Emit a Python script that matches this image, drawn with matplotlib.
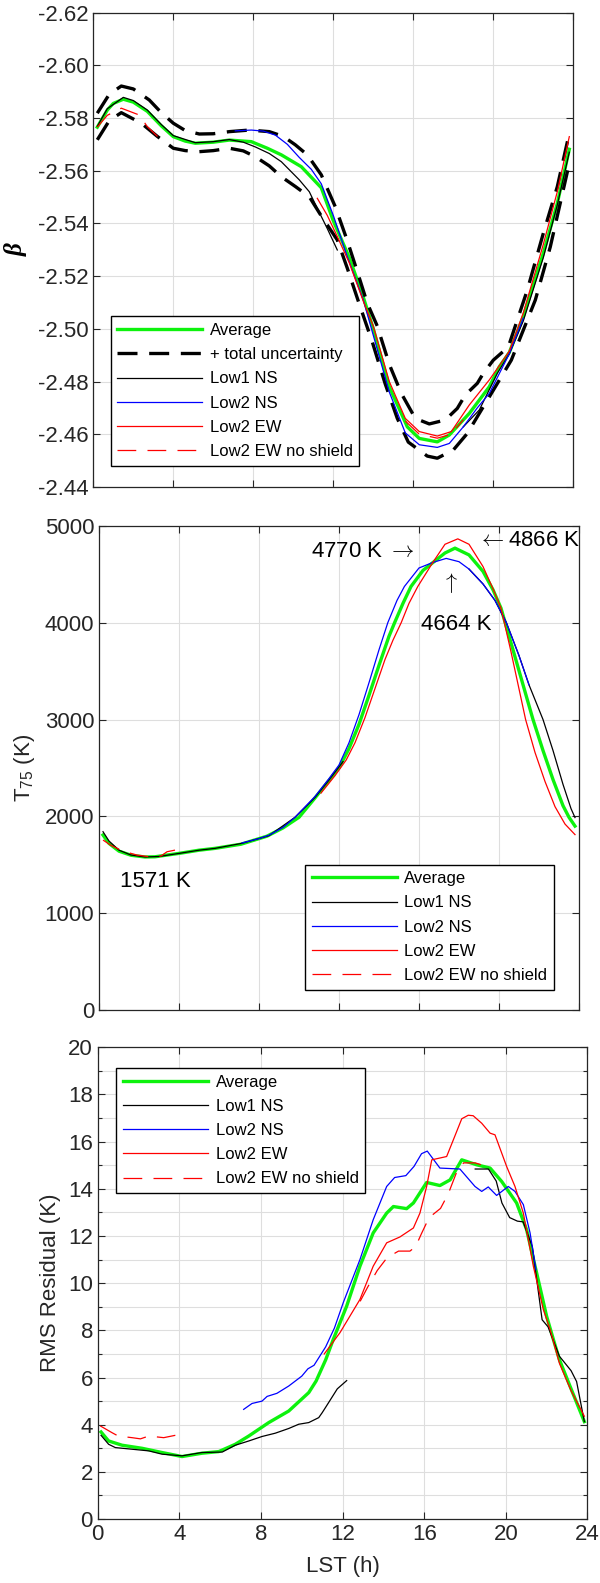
import numpy as np
import matplotlib.pyplot as plt
from matplotlib.ticker import MultipleLocator, FormatStrFormatter

plt.rcParams['font.family'] = ['Liberation Sans', 'DejaVu Sans']
plt.rcParams['mathtext.fontset'] = 'custom'
plt.rcParams['mathtext.rm'] = 'Liberation Sans'
plt.rcParams['mathtext.it'] = 'Liberation Sans:italic'

nan = np.nan

# ---- beta (top panel) ----
t_avg_b = [0.2, 0.7, 1.0, 1.5, 2.0, 2.7, 3.4, 4.0, 4.6, 5.1, 6.0, 6.8, 7.9, 8.7, 9.4, 10.4, 11.4, 12.0,
           12.8, 13.5, 14.0, 14.8, 15.7, 16.3, 17.2, 17.8, 18.8, 19.8, 20.3, 20.8, 21.5, 22.5, 23.2, 23.8]
avg_b = [-2.5765, -2.5830, -2.5855, -2.5871, -2.5860, -2.5825, -2.5770, -2.5729, -2.5712, -2.5704,
         -2.5708, -2.5716, -2.5710, -2.5685, -2.5660, -2.5615, -2.5535, -2.5410, -2.5270, -2.5120,
         -2.5000, -2.4780, -2.4628, -2.4584, -2.4571, -2.4597, -2.4679, -2.4780, -2.4856, -2.4910,
         -2.5046, -2.5286, -2.5476, -2.5681]

t_unc_hi = [0.2, 0.8, 1.4, 2.0, 2.8, 3.4, 4.0, 4.6, 5.3, 6.0, 6.8, 7.8, 8.8, 9.5, 10.1, 10.7, 11.4, 12.1,
            12.7, 13.2, 13.7, 14.2, 14.8, 15.4, 16.1, 16.8, 17.6, 18.2, 18.6, 19.2, 19.5, 20.0, 20.75,
            21.7, 22.5, 23.2, 23.8]
unc_hi = [-2.5818, -2.5890, -2.5921, -2.5910, -2.5868, -2.5820, -2.5780, -2.5752, -2.5739, -2.5740,
          -2.5748, -2.5754, -2.5748, -2.5730, -2.5698, -2.5660, -2.5584, -2.5463, -2.5334, -2.5217,
          -2.5097, -2.5010, -2.4865, -2.4755, -2.4660, -2.4639, -2.4654, -2.4698, -2.4749, -2.4793,
          -2.4831, -2.4881, -2.4931, -2.5147, -2.5362, -2.5539, -2.5742]

t_unc_lo = [0.2, 0.8, 1.4, 2.4, 3.2, 4.0, 4.6, 5.3, 6.0, 6.8, 7.5, 8.1, 8.8, 9.4, 10.1, 10.8, 11.4, 12.2,
            12.7, 13.25, 13.95, 14.6, 15.2, 15.75, 16.7, 17.2, 18.0, 18.7, 19.3, 20.0, 20.9, 21.5, 22.1,
            22.85, 23.8]
unc_lo = [-2.5717, -2.5790, -2.5820, -2.5780, -2.5730, -2.5685, -2.5676, -2.5672, -2.5676, -2.5685,
          -2.5675, -2.5653, -2.5618, -2.5577, -2.5540, -2.5501, -2.5428, -2.5337, -2.5230, -2.5105,
          -2.4950, -2.4790, -2.4660, -2.4570, -2.4517, -2.4509, -2.4540, -2.4603, -2.4679, -2.4767,
          -2.4881, -2.4995, -2.5109, -2.5311, -2.5628]

t_low1_b = [0.2, 0.7, 1.5, 2.0, 2.7, 3.4, 4.0, 5.1, 6.0, 6.8, 7.5, 8.1, 8.8, 9.4, 10.3, 10.8, 11.2, 11.7,
            12.2, nan, 18.5, 19.3, 20.2, 20.8, 21.5, 22.5, 23.2, 23.8]
low1_b = [-2.5768, -2.5835, -2.5878, -2.5866, -2.5830, -2.5775, -2.5733, -2.5706, -2.5710, -2.5718,
          -2.5708, -2.5690, -2.5665, -2.5634, -2.5565, -2.5520, -2.5457, -2.5380, -2.5299, nan,
          -2.4628, -2.4692, -2.4831, -2.4905, -2.5030, -2.5270, -2.5470, -2.5670]

t_low2ns_b = [7.1, 7.9, 8.5, 9.1, 9.7, 10.3, 10.9, 11.4, 12.0, 12.7, 13.5, 14.0, 14.8, 15.6, 16.3, 17.2,
              17.8, 18.5, 19.2, 19.8, 20.3, 20.8, 21.5]
low2ns_b = [-2.5751, -2.5754, -2.5750, -2.5735, -2.5700, -2.5650, -2.5605, -2.5550, -2.5430, -2.5274,
            -2.5110, -2.4975, -2.4760, -2.4605, -2.4560, -2.4550, -2.4565, -2.4628, -2.4700, -2.4755,
            -2.4830, -2.4905, -2.5040]

t_low2ew_b = [11.2, 11.7, 12.2, 12.8, 13.5, 14.0, 14.8, 15.6, 16.3, 17.2, 17.9, 18.8, 19.8, 20.3, 20.8,
              21.5, 22.5, 23.2, 23.8]
low2ew_b = [-2.5495, -2.5430, -2.5350, -2.5250, -2.5105, -2.5010, -2.4800, -2.4660, -2.4610, -2.4593,
            -2.4610, -2.4711, -2.4806, -2.4860, -2.4915, -2.5060, -2.5320, -2.5520, -2.5729]

t_noshield_b = [0.2, 0.7, 1.4, 2.3, 2.7, 3.4, nan, 15.6, 16.3, 17.2, 17.9, 18.5]
noshield_b = [-2.5765, -2.5810, -2.5837, -2.5811, -2.5767, -2.5716, nan,
              -2.4650, -2.4600, -2.4585, -2.4600, -2.4655]

# ---- T75 (middle panel) ----
t_avg_t = [0.2, 0.5, 1.0, 1.6, 2.3, 2.8, 3.4, 4.0, 5.0, 5.8, 7.1, 8.4, 9.2, 10.0, 10.8, 11.5, 12.0, 12.5,
           13.0, 13.5, 14.0, 14.5, 14.78, 15.2, 15.6, 16.2, 16.7, 17.3, 17.8, 18.5, 19.2, 19.7, 20.1,
           20.7, 21.2, 21.7, 22.2, 22.7, 23.2, 23.5, 23.8]
avg_t = [1807, 1720, 1640, 1598, 1580, 1582, 1600, 1617, 1650, 1669, 1712, 1795, 1880, 1990, 2190, 2370,
         2500, 2700, 2950, 3250, 3560, 3860, 4000, 4200, 4374, 4540, 4622, 4720, 4770, 4700, 4530,
         4340, 4150, 3720, 3360, 3000, 2680, 2380, 2110, 1990, 1899]

t_low1_t = [0.2, 0.5, 1.0, 1.6, 2.3, 3.0, 4.0, 5.0, 5.8, 7.15, 8.5, 9.8, 10.8, 11.5, 12.2, nan,
            18.5, 19.2, 19.8, 20.37, 21.0, 21.5, 22.2, 22.7, 23.2, 23.6, 23.8]
low1_t = [1841, 1745, 1650, 1600, 1580, 1585, 1617, 1650, 1669, 1721, 1800, 1990, 2195, 2375, 2565, nan,
          4554, 4400, 4230, 4000, 3660, 3358, 3000, 2680, 2330, 2080, 1987]

t_low2ns_t = [7.15, 8.0, 8.5, 9.2, 9.8, 10.8, 11.5, 12.0, 12.5, 13.0, 13.5, 14.0, 14.44, 14.9, 15.27,
              16.0, 16.69, 17.36, 18.0, 18.5, 19.2, 19.8, 20.37, 21.0, 21.5]
low2ns_t = [1725, 1770, 1805, 1885, 1990, 2205, 2390, 2530, 2760, 3050, 3380, 3720, 4000, 4230, 4374,
            4565, 4622, 4664, 4630, 4554, 4400, 4230, 4000, 3660, 3358]

t_low2ew_t = [11.1, 11.8, 12.36, 12.8, 13.3, 13.8, 14.3, 14.7, 15.11, 15.5, 15.94, 16.69, 17.3, 17.94,
              18.5, 19.2, 19.7, 20.1, 20.6, 21.33, 21.8, 22.3, 22.8, 23.3, 23.8]
low2ew_t = [2240, 2420, 2582, 2760, 3020, 3320, 3620, 3820, 4000, 4200, 4374, 4622, 4810, 4866, 4810,
            4580, 4350, 4150, 3700, 3000, 2660, 2360, 2100, 1920, 1811]

t_noshield_t = [0.2, 0.6, 1.2, 1.9, 2.6, 3.1, 3.4, 3.8]
noshield_t = [1755, 1700, 1640, 1600, 1580, 1590, 1634, 1651]

# ---- RMS residual (bottom panel) ----
t_avg_r = [0.16, 0.53, 1.19, 2.17, 3.15, 4.13, 5.1, 5.93, 6.74, 7.4, 8.38, 9.36, 10.34, 10.7, 11.17,
           11.54, 12.2, 12.85, 13.5, 14.16, 14.49, 15.14, 15.47, 16.12, 16.77, 17.27, 17.84, 18.57,
           19.23, 19.8, 20.53, 21.02, 21.51, 22.0, 22.33, 22.63, 23.2, 23.85]
avg_r = [3.69, 3.31, 3.13, 3.0, 2.82, 2.65, 2.79, 2.86, 3.17, 3.52, 4.09, 4.58, 5.36, 5.85, 6.75, 7.61,
         9.03, 10.72, 12.13, 12.97, 13.25, 13.16, 13.4, 14.27, 14.14, 14.38, 15.23, 15.02, 14.88, 14.31,
         13.4, 12.27, 10.44, 8.6, 7.62, 6.75, 5.52, 4.13]

t_low1_r = [0.16, 0.53, 0.86, 1.68, 2.5, 3.15, 4.13, 5.1, 6.1, 6.74, 7.4, 8.05, 8.7, 9.36, 9.85, 10.34,
            10.83, 11.0, 11.17, 11.74, 12.2, nan, 18.5, 19.15, 19.53, 19.81, 20.19, 20.57, 20.85, 21.3,
            21.78, 22.07, 22.63, 23.2, 23.47, 23.85]
low1_r = [3.55, 3.17, 3.03, 2.96, 2.89, 2.75, 2.68, 2.82, 2.84, 3.13, 3.31, 3.5, 3.64, 3.84, 4.02, 4.09,
          4.3, 4.51, 4.74, 5.52, 5.87, nan, 14.84, 14.84, 14.33, 13.4, 12.78, 12.63, 12.6, 11.55, 8.45,
          8.15, 6.9, 6.29, 5.83, 4.13]

t_low2ns_r = [7.15, 7.56, 8.05, 8.3, 8.78, 9.36, 10.0, 10.3, 10.6, 11.17, 11.6, 12.03, 12.85, 13.5, 14.16,
              14.55, 15.1, 15.5, 15.87, 16.15, 16.77, 17.75, 18.49, 18.82, 19.14, 19.55, 20.12, 20.45,
              20.86, 21.19, 21.48]
low2ns_r = [4.65, 4.9, 5.0, 5.2, 5.33, 5.64, 6.06, 6.37, 6.52, 7.3, 8.1, 9.17, 11.0, 12.69, 14.1, 14.48,
            14.56, 14.95, 15.49, 15.6, 14.88, 14.84, 14.1, 13.89, 14.08, 13.72, 14.1, 13.89, 13.33, 12.13,
            10.57]

t_low2ew_r = [11.1, 11.87, 12.85, 13.5, 14.16, 14.81, 15.47, 15.79, 16.12, 16.37, 17.1, 17.43, 17.84,
              18.16, 18.4, 18.82, 19.23, 19.47, 20.04, 20.45, 20.86, 21.35, 21.84, 22.17, 22.63, 23.2,
              23.85]
low2ew_r = [7.0, 7.9, 9.31, 10.72, 11.71, 11.96, 12.34, 12.97, 14.1, 15.23, 15.37, 16.08, 16.97, 17.12,
            17.1, 16.78, 16.36, 16.29, 14.95, 14.1, 12.97, 10.72, 8.88, 8.04, 6.6, 5.44, 4.36]

t_noshield_r = [0.12, 0.7, 1.0, 1.68, 2.09, 2.5, 3.23, 3.8, nan, 12.86, 13.24, 13.7, 14.18, 14.74, 15.3,
                15.58, 15.86, 16.24, 16.8, 17.18, 17.56, 17.93, 18.5, 19.06]
noshield_r = [3.95, 3.66, 3.52, 3.45, 3.4, 3.52, 3.45, 3.55, nan, 9.23, 9.85, 10.54, 11.08, 11.36, 11.36,
              11.55, 12.09, 12.78, 13.17, 13.79, 14.64, 15.1, 15.1, 14.95]

GREEN = (0.05, 0.95, 0.05)
dark = '#262626'


def style(ax):
    ax.set_xlim(0, 24)
    ax.xaxis.set_major_locator(MultipleLocator(4))
    ax.tick_params(which='both', direction='in', top=True, right=True, width=0.8,
                   colors=dark, labelsize=16)
    ax.tick_params(which='major', length=5)
    ax.tick_params(which='minor', length=3)
    ax.grid(True, which='both', color='#dedede', lw=0.8)
    ax.set_axisbelow(True)
    for s in ax.spines.values():
        s.set_color(dark)
        s.set_linewidth(0.9)


def add_legend(ax, **kw):
    leg = ax.legend(fontsize=12, fancybox=False, edgecolor='k', framealpha=1,
                    handlelength=5.1, handletextpad=0.45, labelspacing=0.55,
                    borderpad=0.4, borderaxespad=0, **kw)
    leg.get_frame().set_linewidth(1.0)
    return leg


fig = plt.figure(figsize=(6, 15.83), dpi=100)

# top: beta
ax1 = fig.add_axes([0.1555, 0.6924, 0.8, 0.2997])
ax1.plot(t_avg_b, avg_b, color=GREEN, lw=2.4, label='Average')
ax1.plot(t_unc_hi, unc_hi, color='k', lw=2.4, dashes=(6, 3.5), label='+ total uncertainty')
ax1.plot(t_unc_lo, unc_lo, color='k', lw=2.4, dashes=(6, 3.5), label='_nolegend_')
ax1.plot(t_low1_b, low1_b, color='k', lw=0.9, label='Low1 NS')
ax1.plot(t_low2ns_b, low2ns_b, color='b', lw=0.9, label='Low2 NS')
ax1.plot(t_low2ew_b, low2ew_b, color='r', lw=0.9, label='Low2 EW')
ax1.plot(t_noshield_b, noshield_b, color='r', lw=0.9, dashes=(15, 9), label='Low2 EW no shield')
style(ax1)
ax1.set_ylim(-2.44, -2.62)
ax1.set_yticks(np.arange(-2.62, -2.4399, 0.02))
ax1.yaxis.set_major_formatter(FormatStrFormatter('%.2f'))
ax1.tick_params(labelbottom=False)
ax1.set_ylabel('β', fontsize=18, fontweight='bold', fontstyle='italic',
               family=['Liberation Serif', 'DejaVu Serif'])
ax1.yaxis.set_label_coords(-0.137, 0.5)
add_legend(ax1, loc='lower left', bbox_to_anchor=(0.036, 0.045))

# middle: T75
ax2 = fig.add_axes([0.165, 0.362, 0.8, 0.3058])
ax2.plot(t_avg_t, avg_t, color=GREEN, lw=2.4, label='Average')
ax2.plot(t_low1_t, low1_t, color='k', lw=0.9, label='Low1 NS')
ax2.plot(t_low2ns_t, low2ns_t, color='b', lw=0.9, label='Low2 NS')
ax2.plot(t_low2ew_t, low2ew_t, color='r', lw=0.9, label='Low2 EW')
ax2.plot(t_noshield_t, noshield_t, color='r', lw=0.9, dashes=(15, 9), label='Low2 EW no shield')
style(ax2)
ax2.set_ylim(0, 5000)
ax2.yaxis.set_major_locator(MultipleLocator(1000))
ax2.tick_params(labelbottom=False)
ax2.set_ylabel('T$_{75}$ (K)', fontsize=16, color=dark)
ax2.yaxis.set_label_coords(-0.130, 0.5)
add_legend(ax2, loc='lower left', bbox_to_anchor=(0.429, 0.042))
ann = dict(fontsize=16, ha='center', va='center', math_fontfamily='cm')
ax2.text(13.2, 4731, '4770 K $\\rightarrow$', **ann)
ax2.text(21.5, 4845, '$\\leftarrow$4866 K', **ann)
ax2.text(17.55, 4411, '$\\uparrow$', **ann)
ax2.text(17.85, 3977, '4664 K', **ann)
ax2.text(2.84, 1322, '1571 K', **ann)

# bottom: RMS residual
ax3 = fig.add_axes([0.163, 0.0404, 0.816, 0.298])
ax3.plot(t_avg_r, avg_r, color=GREEN, lw=2.4, label='Average')
ax3.plot(t_low1_r, low1_r, color='k', lw=0.9, label='Low1 NS')
ax3.plot(t_low2ns_r, low2ns_r, color='b', lw=0.9, label='Low2 NS')
ax3.plot(t_low2ew_r, low2ew_r, color='r', lw=0.9, label='Low2 EW')
ax3.plot(t_noshield_r, noshield_r, color='r', lw=0.9, dashes=(15, 9), label='Low2 EW no shield')
style(ax3)
ax3.set_ylim(0, 20)
ax3.yaxis.set_major_locator(MultipleLocator(2))
ax3.yaxis.set_minor_locator(MultipleLocator(1))
ax3.set_ylabel('RMS Residual (K)', fontsize=16, color=dark)
ax3.yaxis.set_label_coords(-0.076, 0.5)
ax3.set_xlabel('LST (h)', fontsize=16, color=dark)
ax3.xaxis.set_label_coords(0.5, -0.078)
add_legend(ax3, loc='upper left', bbox_to_anchor=(0.038, 0.956))

fig.savefig('out.png', dpi=100)
